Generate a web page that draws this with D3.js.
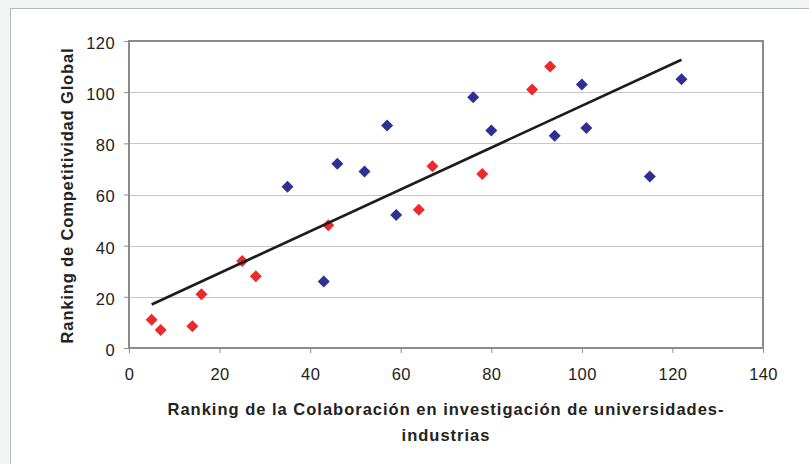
<!DOCTYPE html>
<html><head><meta charset="utf-8">
<script src="https://cdn.jsdelivr.net/npm/d3@7"></script>
<style>
html,body{margin:0;padding:0;background:#f2f3f3;}
svg{display:block;}
</style></head>
<body>
<svg id="chart" width="809" height="464"></svg>
<script>
// Data
const redX  = [5, 7, 14, 16, 25, 28, 44, 64, 67, 78, 89, 93];
const redY  = [11, 7, 8.5, 21, 34, 28, 48, 54, 71, 68, 101, 110];
const blueX = [35, 43, 46, 52, 57, 59, 76, 80, 94, 100, 101, 115, 122];
const blueY = [63, 26, 72, 69, 87, 52, 98, 85, 83, 103, 86, 67, 105];
const xTicks = [0, 20, 40, 60, 80, 100, 120, 140];
const yTicks = [0, 20, 40, 60, 80, 100, 120];
const xTitle1 = "Ranking de la Colaboración en investigación de universidades-";
const xTitle2 = "industrias";
const yTitle = "Ranking de Competitividad Global";

const svg = d3.select("#chart");
// chart frame
svg.append("rect").attr("x", 10.5).attr("y", 8.5).attr("width", 820).attr("height", 470)
  .attr("fill", "#fff").attr("stroke", "#b8b8b8").attr("stroke-width", 1);

const L = 129, R = 763, T = 41, B = 348;
const x = d3.scaleLinear().domain([0, 140]).range([L, R]);
const y = d3.scaleLinear().domain([0, 120]).range([B, T]);

// gridlines
svg.append("g").selectAll("line").data(yTicks.filter(d => d > 0)).join("line")
  .attr("x1", L).attr("x2", R)
  .attr("y1", d => Math.round(y(d)) + 0.5).attr("y2", d => Math.round(y(d)) + 0.5)
  .attr("stroke", "#c6c6c6").attr("stroke-width", 1);

// axes
const font = "Liberation Sans, Arial, sans-serif";
const yAxis = svg.append("g").attr("transform", `translate(${L},0)`)
  .call(d3.axisLeft(y).tickValues(yTicks).tickSize(5).tickPadding(9).tickSizeOuter(0));
const xAxis = svg.append("g").attr("transform", `translate(0,${B})`)
  .call(d3.axisBottom(x).tickValues(xTicks).tickSize(5).tickPadding(15).tickSizeOuter(0));
[xAxis, yAxis].forEach(g => {
  g.select(".domain").remove();
  g.selectAll("line").attr("stroke", "#8a8e92").attr("stroke-width", 1);
  g.selectAll("text").attr("font-family", font).attr("font-size", 16.5)
    .attr("letter-spacing", 0.4).attr("fill", "#222");
});
yAxis.selectAll("text").attr("dy", "0.45em");

// plot border
svg.append("rect").attr("x", L).attr("y", T).attr("width", R - L).attr("height", B - T)
  .attr("fill", "none").attr("stroke", "#878b8f").attr("stroke-width", 2);

// trendline (least squares over all points)
const allX = redX.concat(blueX), allY = redY.concat(blueY);
const mx = d3.mean(allX), my = d3.mean(allY);
let sxy = 0, sxx = 0;
allX.forEach((v, i) => { sxy += (v - mx) * (allY[i] - my); sxx += (v - mx) * (v - mx); });
const slope = sxy / sxx, icpt = my - slope * mx;
const [x0, x1] = d3.extent(allX);

// markers
const diamond = d3.symbol().type(d3.symbolSquare).size(72);
function drawSeries(xs, ys, color) {
  svg.append("g").selectAll("path").data(xs.map((v, i) => [v, ys[i]])).join("path")
    .attr("d", diamond)
    .attr("transform", d => `translate(${x(d[0])},${y(d[1])}) rotate(45)`)
    .attr("fill", color);
}
drawSeries(redX, redY, "#ec2a2e");
drawSeries(blueX, blueY, "#2e3192");

svg.append("line")
  .attr("x1", x(x0)).attr("y1", y(slope * x0 + icpt))
  .attr("x2", x(x1)).attr("y2", y(slope * x1 + icpt))
  .attr("stroke", "#1c1c1c").attr("stroke-width", 2.6);

// titles
function title(sel) {
  return sel.attr("text-anchor", "middle").attr("font-family", font).attr("font-size", 16.5)
    .attr("font-weight", "bold").attr("letter-spacing", 1).attr("fill", "#222");
}
title(svg.append("text").attr("x", (L + R) / 2).attr("y", 415)).text(xTitle1);
title(svg.append("text").attr("x", (L + R) / 2).attr("y", 441)).text(xTitle2);
title(svg.append("text").attr("transform", `translate(73,${(T + B) / 2 + 1}) rotate(-90)`))
  .attr("letter-spacing", 0.85).text(yTitle);
</script>
</body></html>
